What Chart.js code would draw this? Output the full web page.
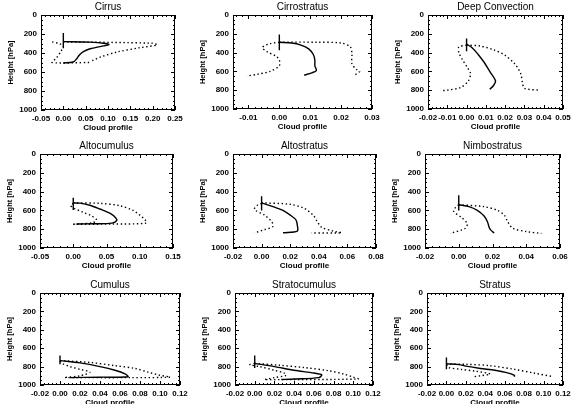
<!DOCTYPE html>
<html>
<head>
<meta charset="utf-8">
<script src="https://cdn.jsdelivr.net/npm/chart.js@4.4.0/dist/chart.umd.min.js"></script>
<style>
  html, body { margin: 0; padding: 0; background: #fff; overflow: hidden; }
  body { width: 572px; height: 404px; position: relative; }
  canvas { position: absolute; }
</style>
</head>
<body>
<script>
// Perfiles: cada punto es [valor, altura hPa]
const heightTicks = [0, 200, 400, 600, 800, 1000];

// Cirrus
const cirrusTicks = [-0.05, 0, 0.05, 0.10, 0.15, 0.20, 0.25];
const cirrusMean = [[0, 280], [0.06, 285], [0.095, 300], [0.102, 312], [0.085, 330], [0.06, 355], [0.045, 385], [0.036, 420], [0.03, 460], [0.022, 495], [0, 505]];
const cirrusLow = [[-0.025, 283], [-0.01, 300], [0, 325], [-0.005, 380], [-0.015, 450], [-0.025, 500], [0.06, 500]];
const cirrusHigh = [[0, 283], [0.2, 297], [0.21, 315], [0.17, 345], [0.12, 390], [0.085, 440], [0.065, 480], [0.06, 498]];
const cirrusBar = [190, 350];

// Cirrostratus
const cirrostratusTicks = [-0.01, 0, 0.01, 0.02, 0.03];
const cirrostratusMean = [[0, 290], [0.004, 298], [0.007, 320], [0.0095, 360], [0.011, 420], [0.0115, 480], [0.0115, 540], [0.012, 590], [0.0105, 615], [0.008, 640]];
const cirrostratusLow = [[0, 290], [-0.003, 305], [-0.0055, 345], [-0.004, 390], [-0.001, 440], [0, 480], [0, 540], [-0.003, 600], [-0.007, 630], [-0.0105, 650]];
const cirrostratusHigh = [[0, 288], [0.012, 290], [0.02, 298], [0.023, 340], [0.0235, 420], [0.0235, 520], [0.025, 580], [0.026, 600], [0.025, 625], [0.024, 650]];
const cirrostratusBar = [207, 375];

// Deep Convection
const deepTicks = [-0.02, -0.01, 0, 0.01, 0.02, 0.03, 0.04, 0.05];
const deepMean = [[0, 310], [0.003, 350], [0.006, 420], [0.009, 500], [0.012, 600], [0.015, 700], [0.014, 750], [0.012, 790]];
const deepLow = [[0, 320], [-0.004, 340], [-0.004, 400], [-0.002, 480], [0.0005, 560], [0.002, 620], [0.001, 700], [-0.003, 770], [-0.01, 800], [-0.013, 805]];
const deepHigh = [[0, 320], [0.007, 330], [0.014, 370], [0.02, 430], [0.025, 520], [0.028, 620], [0.029, 720], [0.03, 780], [0.038, 800]];
const deepBar = [250, 386];

// Altocumulus
const altocumulusTicks = [-0.05, 0, 0.05, 0.10, 0.15];
const altocumulusMean = [[0, 520], [0.01, 523], [0.025, 545], [0.04, 585], [0.055, 630], [0.064, 680], [0.065, 710], [0.058, 735], [0.03, 742], [0.005, 745]];
const altocumulusLow = [[0, 525], [-0.004, 550], [0.002, 580], [0.015, 620], [0.028, 660], [0.035, 700], [0.03, 730], [0.005, 745], [0, 748]];
const altocumulusHigh = [[0, 520], [0.04, 525], [0.07, 550], [0.09, 600], [0.1, 650], [0.108, 700], [0.11, 735], [0.06, 745], [0, 748]];
const altocumulusBar = [465, 595];

// Altostratus
const altostratusTicks = [-0.02, 0, 0.02, 0.04, 0.06, 0.08];
const altostratusMean = [[0, 520], [0.008, 560], [0.015, 600], [0.02, 650], [0.024, 700], [0.025, 760], [0.025, 820], [0.015, 838]];
const altostratusLow = [[0, 525], [-0.003, 545], [-0.005, 590], [0.002, 650], [0.007, 720], [0.008, 770], [0.002, 805], [-0.005, 840]];
const altostratusHigh = [[0, 520], [0.02, 535], [0.03, 580], [0.036, 650], [0.039, 720], [0.042, 780], [0.05, 820], [0.056, 838], [0.035, 840]];
const altostratusBar = [450, 600];

// Nimbostratus
const nimboTicks = [-0.02, 0, 0.02, 0.04, 0.06];
const nimboMean = [[0, 540], [0.006, 560], [0.011, 600], [0.015, 660], [0.017, 720], [0.018, 780], [0.019, 810], [0.021, 840]];
const nimboLow = [[0, 540], [-0.002, 570], [-0.003, 610], [0.002, 680], [0.005, 740], [0.004, 790], [-0.005, 845]];
const nimboHigh = [[0, 540], [0.015, 560], [0.023, 600], [0.027, 650], [0.029, 720], [0.032, 790], [0.04, 825], [0.049, 845]];
const nimboBar = [440, 600];

// Cumulus
const lowCloudTicks = [-0.02, 0, 0.02, 0.04, 0.06, 0.08, 0.10, 0.12];
const cumulusMean = [[0, 735], [0.02, 760], [0.04, 800], [0.055, 840], [0.065, 880], [0.068, 910], [0.04, 915], [0.01, 920]];
const cumulusLow = [[0, 740], [0.003, 770], [0.01, 800], [0.02, 830], [0.03, 860], [0.02, 900], [0.005, 918]];
const cumulusHigh = [[0, 735], [0.03, 755], [0.055, 790], [0.075, 820], [0.088, 860], [0.1, 895], [0.11, 915], [0.07, 920], [0.005, 920]];
const cumulusBar = [680, 775];

// Stratocumulus
const stratocumulusMean = [[0, 765], [0.02, 800], [0.04, 840], [0.06, 870], [0.068, 890], [0.065, 920], [0.04, 935], [0.027, 940]];
const stratocumulusLow = [[0, 765], [-0.005, 780], [0.005, 800], [0.02, 840], [0.03, 870], [0.032, 895], [0.02, 920], [0.01, 940]];
const stratocumulusHigh = [[0, 765], [0.025, 785], [0.05, 810], [0.075, 845], [0.09, 880], [0.1, 915], [0.105, 935], [0.01, 942]];
const stratocumulusBar = [680, 815];

// Stratus
const stratusMean = [[0, 770], [0.013, 778], [0.02, 795], [0.035, 820], [0.05, 840], [0.062, 865], [0.07, 895], [0.07, 910]];
const stratusLow = [[0, 780], [0.002, 810], [0.015, 830], [0.03, 850], [0.045, 880], [0.035, 900], [0.028, 910]];
const stratusHigh = [[0, 772], [0.02, 775], [0.045, 790], [0.07, 830], [0.09, 870], [0.11, 910]];
const stratusBar = [700, 830];

// Posición de la caja de cada panel: [izq, arriba, der, abajo] en px
const panelBoxes = [
  [41, 15, 175, 110], [233, 15, 372, 109], [428, 15, 563, 109],
  [40, 154, 173, 248], [233, 154, 376, 248], [425, 154, 560, 248],
  [40, 293, 180, 385], [235, 293, 373, 385], [427, 293, 563, 385]
];

const FONT = "'Liberation Sans', Arial, sans-serif";
const SIDE = 40; // ancho reservado para el eje y

// Caja con marcas hacia dentro en los cuatro lados (estilo IDL)
const boxTicks = {
  id: 'boxTicks',
  afterDatasetsDraw(chart) {
    const { ctx, chartArea: a, scales: { x, y } } = chart;
    ctx.save();
    ctx.strokeStyle = '#000';
    ctx.lineWidth = 1;
    ctx.strokeRect(a.left + 0.5, a.top + 0.5, a.right - a.left - 1, a.bottom - a.top - 1);
    ctx.beginPath();
    const xMinor = (x.ticks[1].value - x.ticks[0].value) / 5;
    for (let k = Math.ceil(x.min / xMinor - 1e-6); k * xMinor <= x.max + 1e-9; k++) {
      const px = Math.round(x.getPixelForValue(k * xMinor)) + 0.5;
      const len = k % 5 === 0 ? 4 : 2;
      ctx.moveTo(px, a.bottom); ctx.lineTo(px, a.bottom - len);
      ctx.moveTo(px, a.top); ctx.lineTo(px, a.top + len);
    }
    const yMinor = 50;
    for (let k = 0; k * yMinor <= y.max; k++) {
      const py = Math.round(y.getPixelForValue(k * yMinor)) + 0.5;
      const len = k % 4 === 0 ? 4 : 2;
      ctx.moveTo(a.left, py); ctx.lineTo(a.left + len, py);
      ctx.moveTo(a.right, py); ctx.lineTo(a.right - len, py);
    }
    ctx.stroke();
    ctx.restore();
  }
};

const toXY = arr => arr.map(p => ({ x: p[0], y: p[1] }));

function makePanel(i, title, xMin, xMax, xTicks, mean, low, high, bar) {
  const [L, T, R, B] = panelBoxes[i];
  const padRight = 12;
  const w = (R - L) + SIDE + padRight;
  const h = (B - T) + 16 + 28;
  const canvas = document.createElement('canvas');
  canvas.width = w;
  canvas.height = h;
  canvas.style.left = (L - SIDE) + 'px';
  canvas.style.top = (T - 16) + 'px';
  canvas.style.width = w + 'px';
  canvas.style.height = h + 'px';
  document.body.appendChild(canvas);

  const dotted = { borderColor: '#000', borderWidth: 1.4, borderDash: [1.4, 2.6], pointRadius: 0, tension: 0.3, showLine: true };
  new Chart(canvas, {
    type: 'scatter',
    data: {
      datasets: [
        { data: toXY(mean), borderColor: '#000', borderWidth: 1.4, pointRadius: 0, tension: 0.3, showLine: true },
        Object.assign({ data: toXY(low) }, dotted),
        Object.assign({ data: toXY(high) }, dotted),
        { data: [{ x: 0, y: bar[0] }, { x: 0, y: bar[1] }], borderColor: '#000', borderWidth: 1.4, pointRadius: 0, showLine: true }
      ]
    },
    options: {
      responsive: false,
      animation: false,
      devicePixelRatio: 1,
      layout: { padding: { left: 0, right: padRight, top: 0, bottom: 0 } },
      plugins: {
        legend: { display: false },
        tooltip: { enabled: false },
        title: {
          display: true, text: title, color: '#000',
          fullSize: false, // centrado sobre la caja, no sobre todo el lienzo
          font: { family: FONT, size: 10, weight: 'normal' },
          padding: { top: 2, bottom: 2 }
        }
      },
      scales: {
        x: {
          type: 'linear', min: xMin, max: xMax,
          grid: { display: false, drawTicks: false }, border: { display: false },
          afterBuildTicks: s => { s.ticks = xTicks.map(v => ({ value: v })); },
          afterFit: s => { s.height = 28; s.paddingLeft = 0; s.paddingRight = 0; },
          ticks: {
            autoSkip: false, maxRotation: 0, minRotation: 0, padding: 4,
            color: '#000', font: { family: FONT, size: 8, weight: 'bold' },
            callback: v => v.toFixed(2)
          },
          title: {
            display: true, text: 'Cloud profile', color: '#000',
            font: { family: FONT, size: 8, weight: 'bold' },
            padding: { top: 0, bottom: 5 }
          }
        },
        y: {
          type: 'linear', reverse: true, min: 0, max: 1000,
          grid: { display: false, drawTicks: false }, border: { display: false },
          afterBuildTicks: s => { s.ticks = heightTicks.map(v => ({ value: v })); },
          afterFit: s => { s.width = SIDE; s.paddingTop = 0; s.paddingBottom = 0; },
          ticks: {
            padding: 4, color: '#000',
            font: { family: FONT, size: 8, weight: 'bold' },
            callback: v => String(v)
          },
          title: {
            display: true, text: 'Height [hPa]', color: '#000',
            font: { family: FONT, size: 7.5, weight: 'bold' },
            padding: { top: 5, bottom: 0 }
          }
        }
      }
    },
    plugins: [boxTicks]
  });
}

makePanel(0, 'Cirrus', -0.05, 0.25, cirrusTicks, cirrusMean, cirrusLow, cirrusHigh, cirrusBar);
makePanel(1, 'Cirrostratus', -0.015, 0.03, cirrostratusTicks, cirrostratusMean, cirrostratusLow, cirrostratusHigh, cirrostratusBar);
makePanel(2, 'Deep Convection', -0.02, 0.05, deepTicks, deepMean, deepLow, deepHigh, deepBar);
makePanel(3, 'Altocumulus', -0.05, 0.15, altocumulusTicks, altocumulusMean, altocumulusLow, altocumulusHigh, altocumulusBar);
makePanel(4, 'Altostratus', -0.02, 0.08, altostratusTicks, altostratusMean, altostratusLow, altostratusHigh, altostratusBar);
makePanel(5, 'Nimbostratus', -0.02, 0.06, nimboTicks, nimboMean, nimboLow, nimboHigh, nimboBar);
makePanel(6, 'Cumulus', -0.02, 0.12, lowCloudTicks, cumulusMean, cumulusLow, cumulusHigh, cumulusBar);
makePanel(7, 'Stratocumulus', -0.02, 0.12, lowCloudTicks, stratocumulusMean, stratocumulusLow, stratocumulusHigh, stratocumulusBar);
makePanel(8, 'Stratus', -0.02, 0.12, lowCloudTicks, stratusMean, stratusLow, stratusHigh, stratusBar);
</script>
</body>
</html>
